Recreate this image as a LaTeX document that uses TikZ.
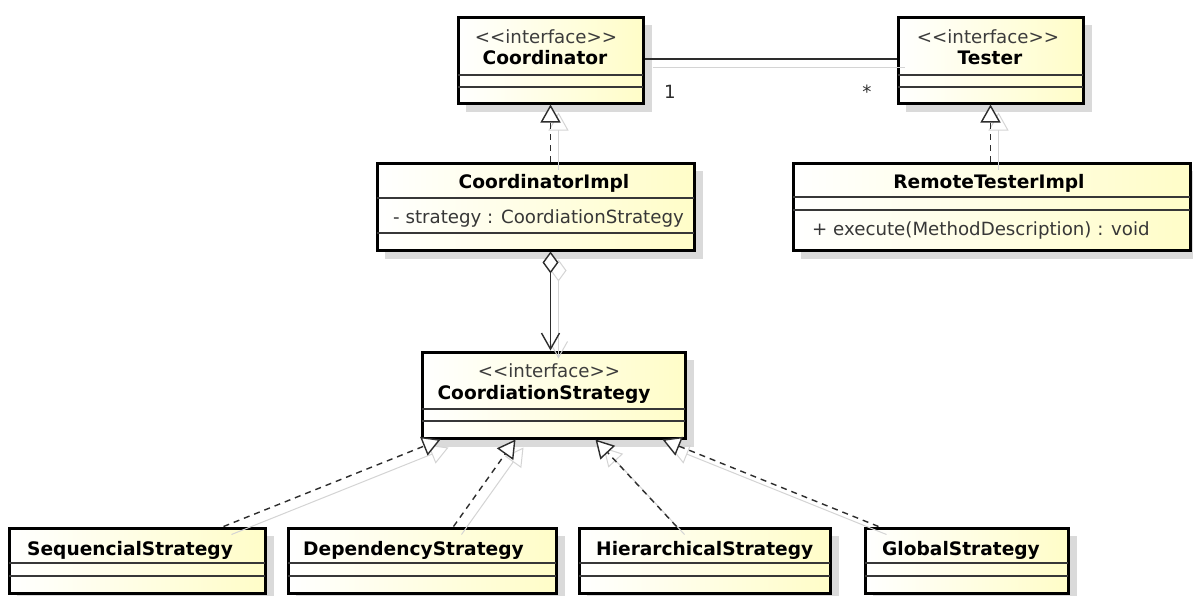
\documentclass[tikz,border=0pt]{standalone}
\usepackage{fontspec}
\newfontfamily\umlfont{DejaVu Sans}
\usetikzlibrary{calc,fit,arrows.meta}

\definecolor{boxright}{RGB}{255,253,200}
\definecolor{boxshade}{RGB}{218,218,218}
\definecolor{linkshade}{RGB}{212,212,212}
\definecolor{linkgrey}{RGB}{45,45,45}
\definecolor{divgrey}{RGB}{55,55,55}
\definecolor{stereogrey}{RGB}{60,60,60}

\tikzset{
  umltext/.style={font=\umlfont\fontsize{18.2}{22}\selectfont},
  classframe/.style={draw=black, line width=3pt, inner sep=0pt,
    left color=white, right color=boxright},
  stereo/.style={umltext, anchor=base, text=stereogrey, inner sep=0pt},
  cname/.style={font=\umlfont\bfseries\fontsize{18.6}{22}\selectfont,
    anchor=base, text=black, inner sep=0pt},
  member/.style={umltext, anchor=base west, text=divgrey, inner sep=0pt},
  mult/.style={umltext, anchor=base, text=linkgrey, inner sep=0pt},
  mainlink/.style={draw=linkgrey, line width=1.4pt},
  shadelink/.style={draw=linkshade, line width=1pt},
  dashlink/.style={dash pattern=on 6pt off 5pt},
}

% name, x1, y1, x2, y2, first divider, second divider
\newcommand\umlclass[7]{%
  \fill[boxshade] (#2+8,#3+8) rectangle (#4+9,#5+9);
  \node[classframe, fit={(#2,#3) (#4,#5)}] (#1) {};
  \draw[divgrey, line width=1.3pt] (#2,#6) -- (#4,#6) (#2,#7) -- (#4,#7);
}

% all relations: line style, dashing of realizations, fill of hollow tips
\newcommand\umllinks[3]{%
  \draw[#1] ($(coord.north east)+(0,43.5)$) -- ($(tester.north west)+(0,43.5)$);
  \draw[#1,#2,-{Triangle[length=18pt,width=20pt,fill=#3]}]
    (cimpl.north -| coord.south) -- (coord.south);
  \draw[#1,#2,-{Triangle[length=18pt,width=20pt,fill=#3]}]
    (rti.north -| tester.south) -- (tester.south);
  \draw[#1,{Diamond[length=22pt,width=16pt,fill=#3]}-{Straight Barb[length=16pt,width=18pt]}]
    (cimpl.south -| coord.south) -- (cstrat.north -| coord.south);
  \draw[#1,#2,-{Triangle[length=18pt,width=20pt,fill=#3]}]
    ($(seq.north west)+(216,0)$) -- ($(cstrat.south west)+(20,0)$);
  \draw[#1,#2,-{Triangle[length=18pt,width=20pt,fill=#3]}]
    ($(dep.north west)+(167,0)$) -- ($(cstrat.south west)+(95,0)$);
  \draw[#1,#2,-{Triangle[length=18pt,width=20pt,fill=#3]}]
    ($(hier.north west)+(99,0)$) -- ($(cstrat.south west)+(175,0)$);
  \draw[#1,#2,-{Triangle[length=18pt,width=20pt,fill=#3]}]
    ($(glob.north west)+(15,0)$) -- ($(cstrat.south west)+(242,0)$);
}

\begin{document}
\begin{tikzpicture}[x=1pt, y=-1pt]
\useasboundingbox (0,0) rectangle (1193,595);
\fill[white] (0,0) rectangle (1193,595);

% classes and interfaces
\umlclass{coord}{458}{17}{643}{103}{75}{87}
\umlclass{tester}{898}{17}{1083}{103}{75}{87}
\umlclass{cimpl}{377}{163}{694}{250}{198}{233}
\umlclass{rti}{793}{163}{1190}{250}{197}{210}
\umlclass{cstrat}{422}{352}{685}{438}{409}{421}
\umlclass{seq}{9}{528}{265}{593}{563}{576}
\umlclass{dep}{288}{528}{556}{593}{563}{576}
\umlclass{hier}{579}{528}{830}{593}{563}{576}
\umlclass{glob}{865}{528}{1068}{593}{563}{576}

% relation shadows, then relations
\begin{scope}[transform canvas={xshift=8pt,yshift=-8pt}]
  \umllinks{shadelink}{solid}{none}
\end{scope}
\umllinks{mainlink}{dashlink}{white}

% texts
\node[stereo] (coordS) at (546,43) {<<interface>>};
\node[cname] (coordN) at (545,64) {Coordinator};
\node[stereo] (testerS) at (988,43) {<<interface>>};
\node[cname] (testerN) at (990,64) {Tester};
\node[cname] (cimplN) at (544,188) {CoordinatorImpl};
\node[member] (cimplA) at (393,223) {- strategy : CoordiationStrategy};
\node[cname] (rtiN) at (989,188) {RemoteTesterImpl};
\node[member] (rtiO) at (812,235) {+ execute(MethodDescription) : void};
\node[stereo] (cstratS) at (549,377) {<<interface>>};
\node[cname] (cstratN) at (544,399) {CoordiationStrategy};
\node[cname, anchor=base west] (seqN) at (27,555) {SequencialStrategy};
\node[cname, anchor=base west] (depN) at (303,555) {DependencyStrategy};
\node[cname, anchor=base west] (hierN) at (596,555) {HierarchicalStrategy};
\node[cname, anchor=base west] (globN) at (882,555) {GlobalStrategy};

% multiplicities
\node[mult] (multOne) at (670,98) {1};
\node[mult] (multMany) at (867,98) {*};
\end{tikzpicture}
\end{document}
